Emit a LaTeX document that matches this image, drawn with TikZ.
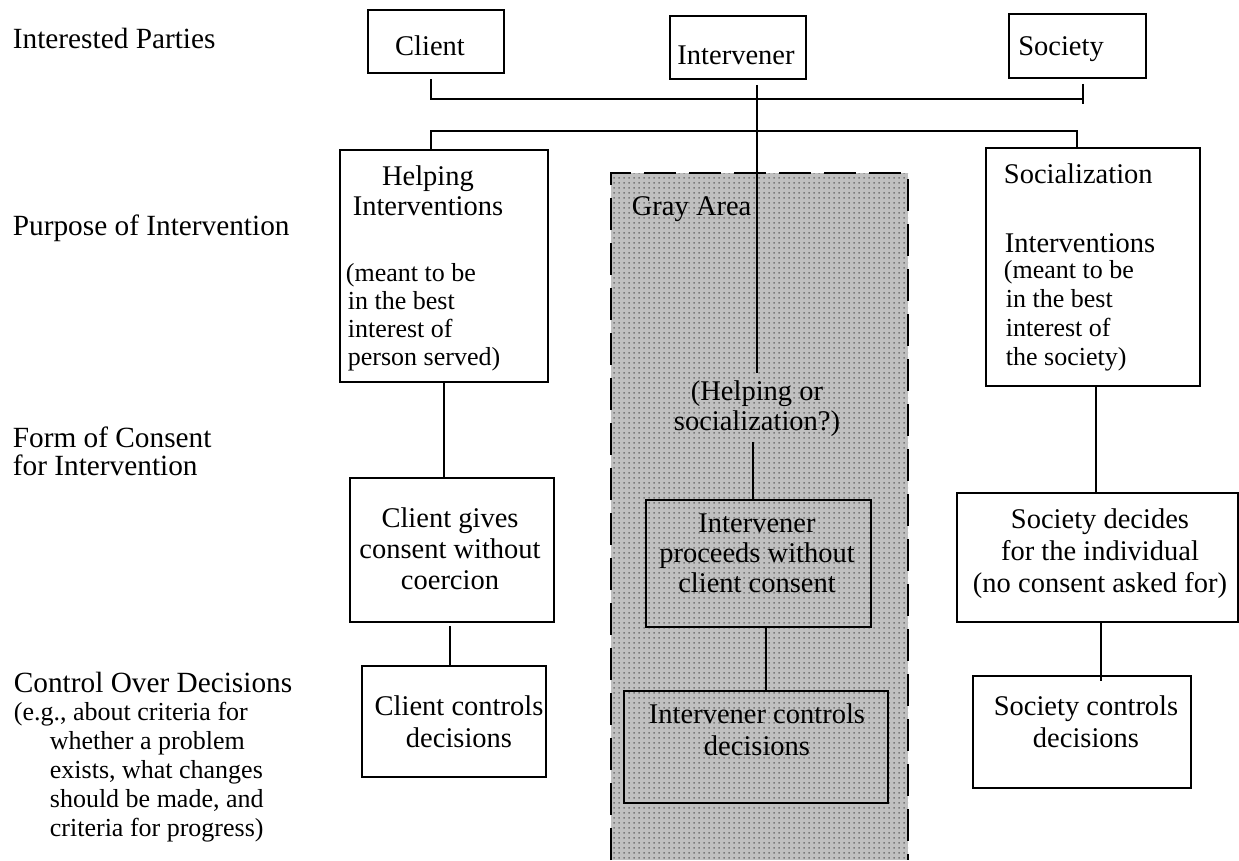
\documentclass[tikz,border=0pt]{standalone}
\usepackage{fontspec}
\setmainfont{Liberation Serif}
\usetikzlibrary{calc,patterns.meta}

% fine stipple used inside the gray area
\tikzdeclarepattern{
  name=stipple,
  type=uncolored,
  bounding box={(0pt,0pt) and (4.5pt,4.5pt)},
  tile size={(4.5pt,4.5pt)},
  code={\fill (1.4pt,1.4pt) rectangle (3.1pt,3.1pt);}
}

\definecolor{areagray}{HTML}{C0C0C0}
\definecolor{dotgray}{HTML}{7A7A7A}

% stacked lines, aligned on the baseline of the first line
\newcommand\ctab[1]{\begin{tabular}[t]{@{}c@{}}#1\end{tabular}}
\newcommand\ltab[1]{\begin{tabular}[t]{@{}l@{}}#1\end{tabular}}
\newcommand\bigtxt[1]{\fontsize{28.5}{#1}\selectfont}
\newcommand\rowtxt[1]{\fontsize{29.3}{#1}\selectfont}
\newcommand\smalltxt[1]{\fontsize{26}{#1}\selectfont}

\begin{document}
\begin{tikzpicture}[x=1pt,y=-1pt,line width=1.8pt,
  box/.style={draw,inner sep=0pt},
  txt/.style={inner sep=0pt,anchor=base,font=\bigtxt{30}},
  txtw/.style={inner sep=0pt,anchor=base west,font=\bigtxt{30}},
  rowlbl/.style={inner sep=0pt,anchor=base west,font=\rowtxt{27}},
  note/.style={inner sep=0pt,anchor=base west,font=\smalltxt{28}}]

\fill[white] (0,0) rectangle (1239,860);
\useasboundingbox (0,0) rectangle (1239,860);

% ---- gray area (open at the bottom) ----
\fill[areagray] (611,173) rectangle (908,860);
\fill[pattern=stipple,pattern color=dotgray] (611,173) rectangle (908,860);
\draw[dash pattern=on 32pt off 13pt] (611,860) -- (611,173) -- (908,173) -- (908,860);
\node[txtw] (gray) at (631,215) {Gray Area};

% ---- row labels ----
\node[rowlbl] (rowA) at (12,48) {Interested Parties};
\node[rowlbl] (rowB) at (12,235) {Purpose of Intervention};
\node[rowlbl,font=\rowtxt{26.5}] (rowC) at (12,447) {\ltab{Form of Consent\\for Intervention}};
\node[rowlbl] (rowD) at (13,692) {Control Over Decisions};
\node[note,font=\smalltxt{29}] (rowDnote) at (13,720)
  {\ltab{(e.g., about criteria for\\
   \hspace*{36pt}whether a problem\\
   \hspace*{36pt}exists, what changes\\
   \hspace*{36pt}should be made, and\\
   \hspace*{36pt}criteria for progress)}};

% ---- interested parties ----
\node[box,minimum width=136pt,minimum height=63pt] (client) at (436,41.5) {};
\node[txt] (clientT) at (430,55) {Client};
\node[box,minimum width=136pt,minimum height=63pt] (intervener) at (738,47.5) {};
\node[txt] (intervenerT) at (736,64) {Intervener};
\node[box,minimum width=137pt,minimum height=64pt] (society) at (1077.5,46) {};
\node[txt] (societyT) at (1061,55) {Society};

% ---- purpose of intervention ----
\node[box,minimum width=208pt,minimum height=232pt] (helping) at (444,266) {};
\node[txt] (helpingT) at (428,185) {\ctab{Helping\\Interventions}};
\node[note] (helpingN) at (345,281)
  {\ltab{(meant to be\\ \hspace*{2pt}in the best\\ \hspace*{2pt}interest of\\ \hspace*{2pt}person served)}};

\node[box,minimum width=214pt,minimum height=238pt] (social) at (1093,267) {};
\node[txtw] (socialT) at (1003,183) {Socialization};
\node[txtw] (socialT2) at (1004,252) {Interventions};
\node[note,font=\smalltxt{29}] (socialN) at (1003,278)
  {\ltab{(meant to be\\ \hspace*{2pt}in the best\\ \hspace*{2pt}interest of\\ \hspace*{2pt}the society)}};

\node[txt] (question) at (757,400) {\ctab{(Helping or\\socialization?)}};

% ---- form of consent ----
\node[box,minimum width=204pt,minimum height=144pt] (consent) at (452,550) {};
\node[txt,font=\bigtxt{31}] (consentT) at (450,527) {\ctab{Client gives\\consent without\\coercion}};

\node[box,minimum width=225pt,minimum height=127pt] (proceeds) at (758.5,563.5) {};
\node[txt] (proceedsT) at (757,532) {\ctab{Intervener\\proceeds without\\client consent}};

\node[box,minimum width=281pt,minimum height=129pt] (decides) at (1097.5,557.5) {};
\node[txt,font=\bigtxt{32}] (decidesT) at (1100,528) {\ctab{Society decides\\for the individual\\(no consent asked for)}};

% ---- control over decisions ----
\node[box,minimum width=184pt,minimum height=111pt] (clientctl) at (454,721.5) {};
\node[txt,font=\bigtxt{32}] (clientctlT) at (459,715) {\ctab{Client controls\\decisions}};

\node[box,minimum width=264pt,minimum height=112pt] (intctl) at (756,747) {};
\node[txt,font=\bigtxt{32}] (intctlT) at (757,723) {\ctab{Intervener controls\\decisions}};

\node[box,minimum width=218pt,minimum height=112pt] (socctl) at (1082,732) {};
\node[txt,font=\bigtxt{32}] (socctlT) at (1086,715) {\ctab{Society controls\\decisions}};

% ---- connectors ----
\coordinate (busLeft) at (431,99);
\coordinate (busRight) at (1083,99);
\draw ($(client.south)+(-5,5)$) -- (busLeft) -- (busRight);
\draw ($(society.south)+(5.5,5)$) -- ($(society.south)+(5.5,25)$);

\coordinate (bus2Left) at (431,131);
\coordinate (bus2Right) at (1077,131);
\draw ($(helping.north)+(-13,0)$) -- (bus2Left) -- (bus2Right) -- (social.north -| bus2Right);

\draw ($(intervener.south)+(19,5)$) -- ($(question.north)+(0,-5)$);
\draw ($(question.south)+(-4,2)$) -- (proceeds.north -| 753,0);

\draw (helping.south) -- (helping.south |- consent.north);
\draw (consent.south -| 450,0) ++(0,3) -- (clientctl.north -| 450,0);
\draw (proceeds.south -| 766,0) -- (intctl.north -| 766,0);
\draw (social.south -| 1096,0) -- (decides.north -| 1096,0);
\draw (decides.south -| 1101,0) -- ($(socctl.north -| 1101,0)+(0,6)$);

\end{tikzpicture}
\end{document}
